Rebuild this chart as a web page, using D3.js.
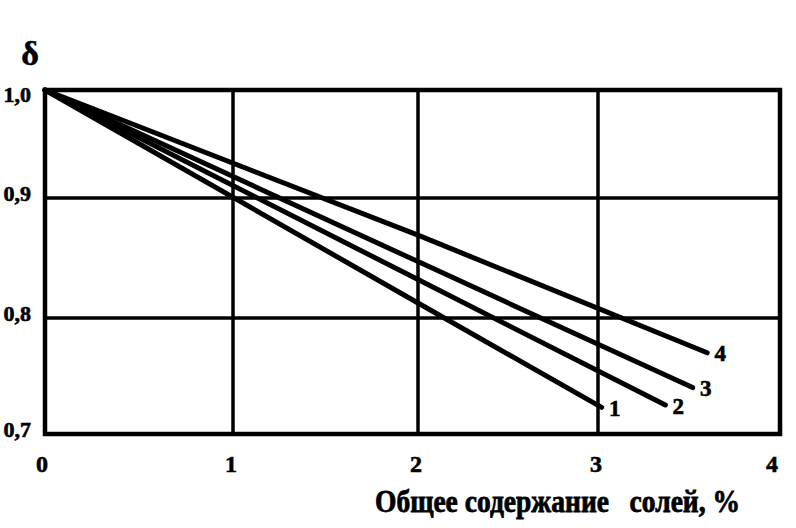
<!DOCTYPE html>
<html><head><meta charset="utf-8">
<script src="https://cdn.jsdelivr.net/npm/d3@7"></script>
<style>body{margin:0;background:#fff}svg{display:block}</style>
</head><body>
<svg id="c" width="796" height="528"></svg>
<script>
const xTicks = [0, 1, 2, 3, 4];
const yTicks = [0.7, 0.8, 0.9, 1.0];
const yTickLabels = ["0,7", "0,8", "0,9", "1,0"];
const seriesNames = ["1", "2", "3", "4"];
const seriesX = [
  [0, 2, 3.02],
  [0, 2, 3.37],
  [0, 2, 3.52],
  [0, 2, 3.60]
];
const seriesY = [
  [1.0, 0.8125, 0.723],
  [1.0, 0.832, 0.725],
  [1.0, 0.847, 0.740],
  [1.0, 0.869, 0.770]
];
const xTitle = "Общее содержание   солей, %";
const yTitle = "δ";

const svg = d3.select("#c");
const x = d3.scaleLinear().domain(xTicks).range([45, 233, 418, 598, 780]);
const y = d3.scaleLinear().domain(yTicks).range([434, 318, 198, 90]);
const font = "'Liberation Serif','Times New Roman',serif";

// grid
svg.append("g").selectAll("line").data(xTicks.slice(1, -1)).join("line")
  .attr("x1", d => x(d)).attr("x2", d => x(d)).attr("y1", y(1.0)).attr("y2", y(0.7))
  .attr("stroke", "#000").attr("stroke-width", 3.5);
svg.append("g").selectAll("line").data(yTicks.slice(1, -1)).join("line")
  .attr("x1", x(0)).attr("x2", x(4)).attr("y1", d => y(d)).attr("y2", d => y(d))
  .attr("stroke", "#000").attr("stroke-width", 3.5);
// frame
svg.append("rect").attr("x", x(0)).attr("y", y(1.0))
  .attr("width", x(4) - x(0)).attr("height", y(0.7) - y(1.0))
  .attr("fill", "none").attr("stroke", "#000").attr("stroke-width", 4.5);

// lines
const line = d3.line().x(d => x(d[0])).y(d => y(d[1]));
seriesNames.forEach((n, i) => {
  const pts = seriesX[i].map((v, j) => [v, seriesY[i][j]]);
  svg.append("path").datum(pts).attr("d", line)
    .attr("fill", "none").attr("stroke", "#000").attr("stroke-width", 5)
    .attr("stroke-linecap", "round");
  const last = pts[pts.length - 1];
  svg.append("text").attr("x", x(last[0]) + 13).attr("y", y(last[1]) + 1)
    .attr("dominant-baseline", "central").attr("text-anchor", "middle")
    .attr("font-family", font).attr("font-weight", "bold").attr("font-size", 23)
    .attr("stroke", "#000").attr("stroke-width", 0.6)
    .text(n);
});

// x tick labels
svg.append("g").selectAll("text").data(xTicks).join("text")
  .attr("x", (d, i) => x(d) - (i === 0 ? 3 : (i === 4 ? 8 : 2)))
  .attr("y", 472).attr("text-anchor", "middle")
  .attr("font-family", font).attr("font-weight", "bold").attr("font-size", 24)
  .attr("stroke", "#000").attr("stroke-width", 0.6)
  .text(d => d);

// y tick labels
svg.append("g").selectAll("text").data(yTicks).join("text")
  .attr("x", 31).attr("y", (d, i) => y(d) + (i === 3 ? 4 : -5))
  .attr("dominant-baseline", "central").attr("text-anchor", "end")
  .attr("font-family", font).attr("font-weight", "bold").attr("font-size", 22)
  .attr("stroke", "#000").attr("stroke-width", 0.6)
  .text((d, i) => yTickLabels[i]);

// titles
svg.append("text").attr("x", 30).attr("y", 65).attr("text-anchor", "middle")
  .attr("font-family", font).attr("font-weight", "bold").attr("font-size", 34)
  .attr("stroke", "#000").attr("stroke-width", 0.6)
  .text(yTitle);
svg.append("text").attr("x", 375).attr("y", 512)
  .attr("textLength", 365).attr("lengthAdjust", "spacingAndGlyphs")
  .attr("font-family", font).attr("font-weight", "bold").attr("font-size", 31)
  .attr("stroke", "#000").attr("stroke-width", 0.8)
  .attr("xml:space", "preserve").style("white-space", "pre")
  .text(xTitle);
</script>
</body></html>
